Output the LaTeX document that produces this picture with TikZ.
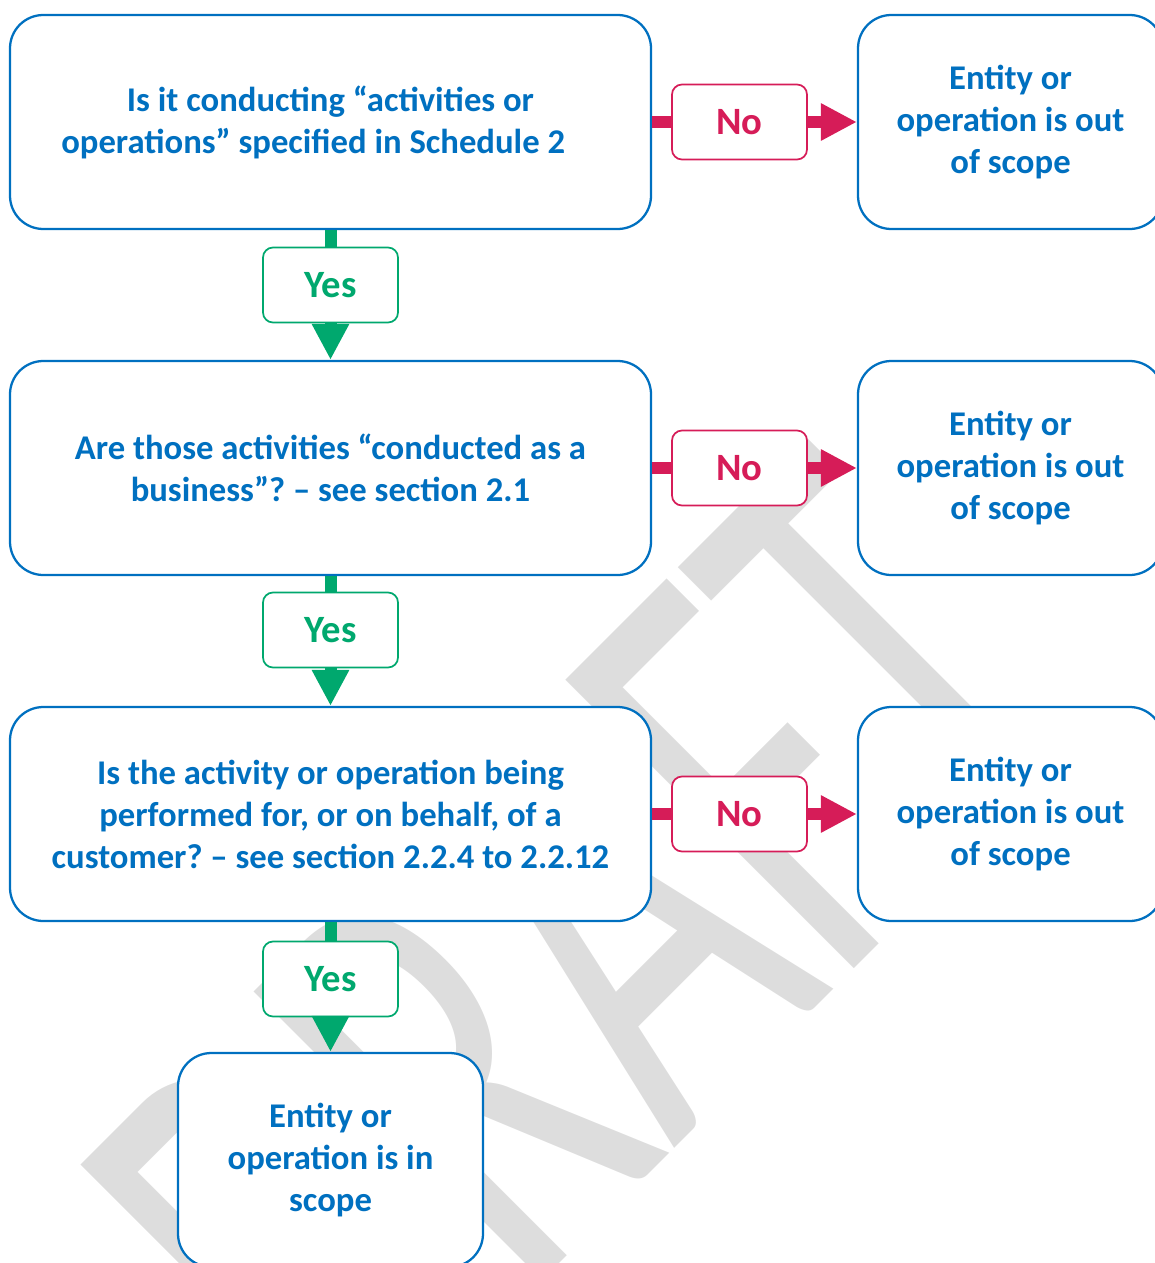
\documentclass[tikz,border=0pt]{standalone}
\usepackage{fontspec}
\setmainfont{Carlito}
\newfontfamily\wmfont{Carlito}
\usetikzlibrary{arrows.meta}
\definecolor{mblue}{RGB}{0,112,192}
\definecolor{mred}{RGB}{214,28,88}
\definecolor{mgreen}{RGB}{0,168,110}
\definecolor{wmgray}{RGB}{221,221,221}
\frenchspacing
\begin{document}
\begin{tikzpicture}[x=0.75pt,y=-0.75pt,
  qbox/.style={draw=mblue, line width=1.7pt, fill=white, rounded corners=25pt, text=mblue,
    font=\bfseries\fontsize{26}{31.5}\selectfont, align=center, inner sep=0pt},
  wide/.style={qbox, minimum width=480.75pt, minimum height=160.5pt},
  side/.style={qbox, minimum width=228.75pt, minimum height=160.5pt},
  endbox/.style={qbox, minimum width=228.75pt, minimum height=160.5pt},
  lab/.style={fill=white, line width=1.3pt, rounded corners=7.5pt, minimum width=101.25pt,
    minimum height=56.25pt, font=\bfseries\fontsize{29}{32}\selectfont, inner sep=0pt},
  nolab/.style={lab, draw=mred, text=mred},
  yeslab/.style={lab, draw=mgreen, text=mgreen},
  nobar/.style={draw=mred, line width=9pt},
  yesbar/.style={draw=mgreen, line width=9pt},
  headarrow/.style={-{Triangle[length=27pt,width=26.25pt]}}
]
\useasboundingbox (0,0) rectangle (1154,1263);
% watermark
\node[rotate=45, anchor=base, text=wmgray, inner sep=0pt] (wm) at (725,1098)
  {\scalebox{0.62}[1]{\wmfont\fontsize{477pt}{480pt}\selectfont DRAFT}};
% boxes
\node[wide] (q1) at (330.5,122) {Is it conducting “activities or\\operations” specified in Schedule 2\hspace*{26pt}};
\node[wide] (q2) at (330.5,468) {Are those activities “conducted as a\\business”? – see section 2.1};
\node[wide] (q3) at (330.5,814) {Is the activity or operation being\\performed for, or on behalf, of a\\customer? – see section 2.2.4 to 2.2.12};
\node[side] (o1) at (1010.5,122) {Entity or\\operation is out\\of scope};
\node[side] (o2) at (1010.5,468) {Entity or\\operation is out\\of scope};
\node[side] (o3) at (1010.5,814) {Entity or\\operation is out\\of scope};
\node[endbox] (e4) at (330.5,1160) {Entity or\\operation is in\\scope};
% labels
\node[nolab] (n1) at (739.5,122) {No};
\node[nolab] (n2) at (739.5,468) {No};
\node[nolab] (n3) at (739.5,814) {No};
\node[yeslab] (y1) at (330.5,285) {Yes};
\node[yeslab] (y2) at (330.5,630) {Yes};
\node[yeslab] (y3) at (330.5,979) {Yes};
% connectors
\draw[nobar] (q1.east) -- (n1.west);
\draw[nobar, headarrow] (n1.east) -- (o1.west);
\draw[nobar] (q2.east) -- (n2.west);
\draw[nobar, headarrow] (n2.east) -- (o2.west);
\draw[nobar] (q3.east) -- (n3.west);
\draw[nobar, headarrow] (n3.east) -- (o3.west);
\draw[yesbar] (q1.south) -- (y1.north);
\draw[yesbar, headarrow] (y1.south) -- (q2.north);
\draw[yesbar] (q2.south) -- (y2.north);
\draw[yesbar, headarrow] (y2.south) -- (q3.north);
\draw[yesbar] (q3.south) -- (y3.north);
\draw[yesbar, headarrow] (y3.south) -- (e4.north);
\end{tikzpicture}
\end{document}
